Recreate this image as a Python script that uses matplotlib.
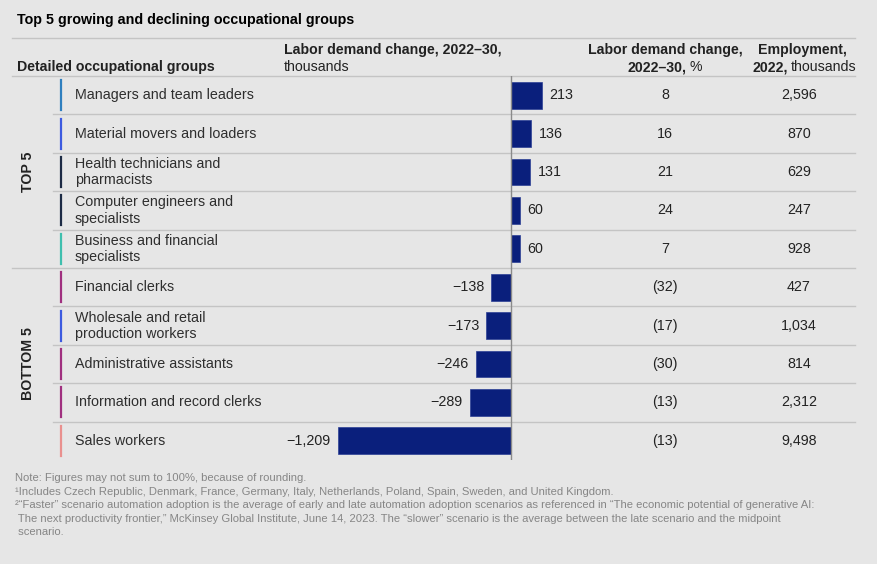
import matplotlib.pyplot as plt
from matplotlib.lines import Line2D

# data
groups = ['Managers and team leaders', 'Material movers and loaders',
          'Health technicians and\npharmacists', 'Computer engineers and\nspecialists',
          'Business and financial\nspecialists', 'Financial clerks',
          'Wholesale and retail\nproduction workers', 'Administrative assistants',
          'Information and record clerks', 'Sales workers']
change = [213, 136, 131, 60, 60, -138, -173, -246, -289, -1209]   # thousands
pct_change = [8, 16, 21, 24, 7, -32, -17, -30, -13, -13]
employment = [2596, 870, 629, 247, 928, 427, 1034, 814, 2312, 9498]
marker_colors = ['#2f7fbf', '#3d5be0', '#1d2b45', '#1d2b45', '#3fbfae',
                 '#a0307f', '#3d5be0', '#a0307f', '#a0307f', '#e9908e']
sections = ['TOP 5', 'BOTTOM 5']
notes = ['Note: Figures may not sum to 100%, because of rounding.',
         '\u00b9Includes Czech Republic, Denmark, France, Germany, Italy, Netherlands, Poland, Spain, Sweden, and United Kingdom.',
         '\u00b2\u201cFaster\u201d scenario automation adoption is the average of early and late automation adoption scenarios as referenced in \u201cThe economic potential of generative AI:',
         ' The next productivity frontier,\u201d McKinsey Global Institute, June 14, 2023. The \u201cslower\u201d scenario is the average between the late scenario and the midpoint',
         ' scenario.']

plt.rcParams['font.family'] = ['Liberation Sans', 'DejaVu Sans']
bg = '#e6e6e6'
line_c = '#c4c4c4'
txt = '#222222'
bar_c = '#0a1f7c'
hfs = 10.2   # header size
rfs = 10.3   # row size

W, H = 877, 564
fig = plt.figure(figsize=(W / 100, H / 100), dpi=100)
fig.patch.set_facecolor(bg)

# table layer in pixel units
tab = fig.add_axes([0, 0, 1, 1])
tab.set_xlim(0, W)
tab.set_ylim(H, 0)
tab.axis('off')

top, row_h = 76, 38.4
n = len(groups)
def yc(i):
    return top + row_h * (i + 0.5)

tab.text(17, 20, 'Top 5 growing and declining occupational groups', fontsize=10.3,
         fontweight='bold', color='black', va='center')
tab.add_line(Line2D([12, 855], [38, 38], color=line_c, lw=1))

# headers
tab.text(17, 67, 'Detailed occupational groups', fontsize=hfs, fontweight='bold', color=txt, va='center')
tab.text(284, 50, 'Labor demand change, 2022\u201330,', fontsize=hfs, fontweight='bold', color=txt, va='center')
tab.text(284, 67, 'thousands', fontsize=hfs, color=txt, va='center')
tab.text(665, 50, 'Labor demand change,', fontsize=hfs, fontweight='bold', color=txt, va='center', ha='center')
tab.text(686, 67, '2022\u201330,', fontsize=hfs, fontweight='bold', color=txt, va='center', ha='right')
tab.text(689, 67, '%', fontsize=hfs, color=txt, va='center', ha='left')
tab.text(802, 50, 'Employment,', fontsize=hfs, fontweight='bold', color=txt, va='center', ha='center')
tab.text(788, 67, '2022,', fontsize=hfs, fontweight='bold', color=txt, va='center', ha='right')
tab.text(791, 67, 'thousands', fontsize=hfs, color=txt, va='center', ha='left')
tab.add_line(Line2D([12, 855], [top, top], color=line_c, lw=1))

# rows
for i in range(n):
    y = yc(i)
    tab.add_line(Line2D([61, 61], [y - 15, y + 15], color=marker_colors[i], lw=1.6))
    tab.text(75, y, groups[i], fontsize=rfs, color='#2e2e2e', va='center', linespacing=1.2)
    p = pct_change[i]
    tab.text(665, y, str(p) if p >= 0 else '(%d)' % abs(p), fontsize=rfs, color=txt,
             va='center', ha='center')
    tab.text(799, y, f'{employment[i]:,}', fontsize=rfs, color=txt, va='center', ha='center')
    if i < n - 1:
        x0 = 12 if i == 4 else 53
        yb = top + row_h * (i + 1)
        tab.add_line(Line2D([x0, 855], [yb, yb], color=line_c, lw=1))

for k, s in enumerate(sections):
    tab.text(28, yc(5 * k + 2), s, fontsize=hfs, fontweight='bold', color=txt,
             rotation=90, va='center', ha='center')

for j, t in enumerate(notes):
    tab.text(15, 478 + 13.6 * j, t, fontsize=8.1, color='#868686', va='center')

# bar layer
px_per_k = 0.1435
left_px, right_px, zero_px = 280, 600, 511
ax = fig.add_axes([left_px / W, (H - (top + row_h * n)) / H, (right_px - left_px) / W, row_h * n / H])
ax.set_facecolor('none')
ax.set_xlim(-(zero_px - left_px) / px_per_k, (right_px - zero_px) / px_per_k)
ax.set_ylim(n - 0.5, -0.5)
ax.barh(range(n), change, height=0.7, color=bar_c, edgecolor='#2c3f95', linewidth=0.5)
ax.axvline(0, color='#8a8a8a', lw=1)
for i, v in enumerate(change):
    label = f'{v:,}' if v >= 0 else '\u2212' + f'{abs(v):,}'
    ax.annotate(label, (v, i), xytext=(8 if v >= 0 else -7, 0), textcoords='offset pixels',
                ha='left' if v >= 0 else 'right', va='center', fontsize=rfs, color=txt)
ax.axis('off')

fig.savefig('out.png', dpi=100, facecolor=bg)
